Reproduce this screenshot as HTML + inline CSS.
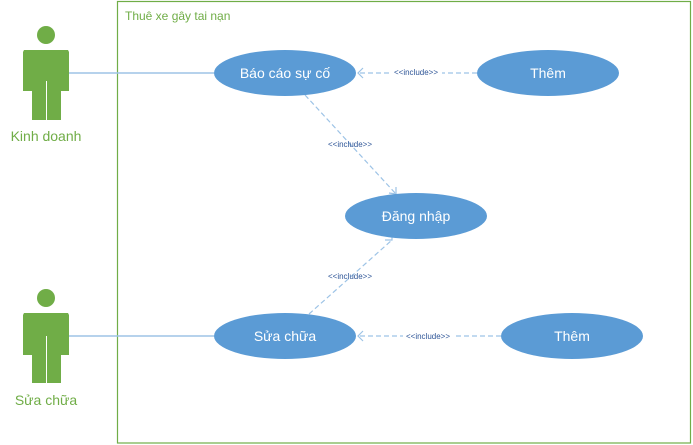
<!DOCTYPE html>
<html><head><meta charset="utf-8"><style>body{margin:0;background:#fff}svg{display:block}</style></head><body>
<svg width="693" height="445" viewBox="0 0 693 445" xmlns="http://www.w3.org/2000/svg" font-family="'Liberation Sans', sans-serif">
<rect x="117.5" y="1.5" width="573" height="441.5" fill="none" stroke="#70ad47" stroke-width="1.2"/>
<text x="125" y="20" font-size="12" fill="#70ad47">Thuê xe gây tai nạn</text>
<g fill="#70ad47">
<circle cx="46" cy="35" r="9"/>
<path d="M24 50 H68 L69 52 V91 H61 V120 H47 V81 H46 V120 H32 V91 H23 V52 Z"/>
<circle cx="46" cy="298" r="9"/>
<path d="M24 313 H68 L69 315 V355 H61 V383 H47 V336 H46 V383 H32 V355 H23 V315 Z"/>
</g>
<g stroke="#fff" stroke-width="1"><line x1="46.5" y1="81" x2="46.5" y2="120"/><line x1="46.5" y1="336" x2="46.5" y2="383"/></g>
<text x="46" y="141" font-size="14" fill="#70ad47" text-anchor="middle">Kinh doanh</text>
<text x="46" y="405" font-size="14" fill="#70ad47" text-anchor="middle">Sửa chữa</text>
<g stroke="#9dc3e6" stroke-width="1.5"><line x1="69" y1="73" x2="214" y2="73"/><line x1="69" y1="336" x2="214" y2="336"/></g>
<g stroke="#9dc3e6" stroke-width="1.2" stroke-dasharray="5,3" fill="none">
<line x1="477" y1="73" x2="358" y2="73"/>
<line x1="501" y1="336" x2="358" y2="336"/>
<line x1="305" y1="95" x2="396" y2="194"/>
<line x1="309" y1="314" x2="392" y2="240"/>
</g>
<g stroke="#9dc3e6" stroke-width="1.2" fill="none">
<path d="M363 68 L358 73 L363 78"/><path d="M363 331 L358 336 L363 341"/>
<path d="M389 193 L396 194 L396 187"/><path d="M385 240 L392 240 L392 233"/>
</g>
<g font-size="8" fill="#2e5597" text-anchor="middle">
<rect x="392" y="67" width="50" height="10" fill="#fff"/><text x="416" y="75">&lt;&lt;include&gt;&gt;</text>
<rect x="403" y="330" width="50" height="10" fill="#fff"/><text x="428" y="339">&lt;&lt;include&gt;&gt;</text>
<text x="350" y="147">&lt;&lt;include&gt;&gt;</text>
<text x="350" y="279">&lt;&lt;include&gt;&gt;</text>
</g>
<g fill="#5b9bd5">
<ellipse cx="285" cy="73" rx="71" ry="23"/>
<ellipse cx="548" cy="73" rx="71" ry="23"/>
<ellipse cx="416" cy="216" rx="71" ry="23"/>
<ellipse cx="285" cy="336" rx="71" ry="23"/>
<ellipse cx="572" cy="336" rx="71" ry="23"/>
</g>
<g font-size="14" fill="#fff" text-anchor="middle">
<text x="285" y="78">Báo cáo sự cố</text>
<text x="548" y="78">Thêm</text>
<text x="416" y="221">Đăng nhập</text>
<text x="285" y="341">Sửa chữa</text>
<text x="572" y="341">Thêm</text>
</g>
</svg>
</body></html>
